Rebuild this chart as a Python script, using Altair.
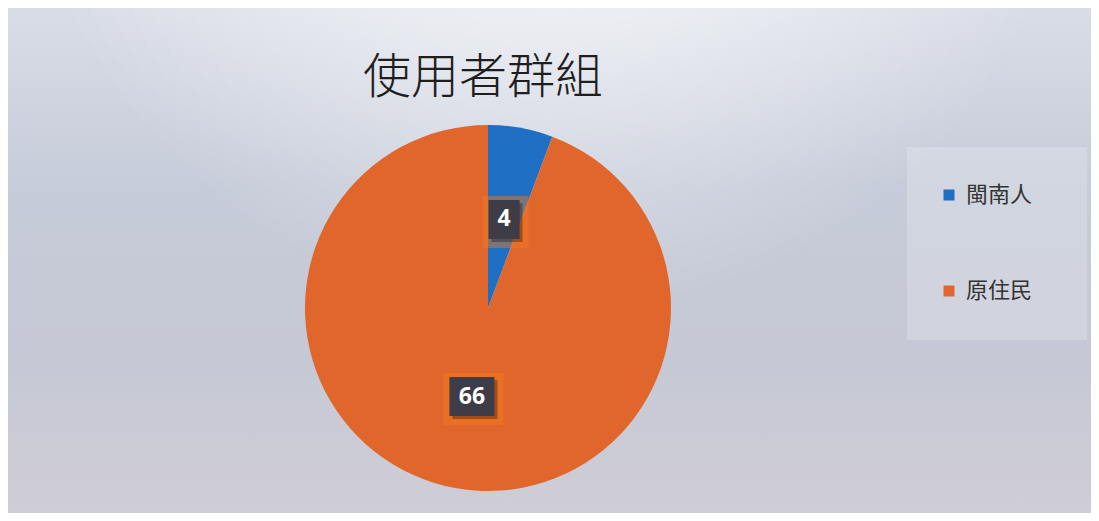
import altair as alt
import pandas as pd

# ---- data ----
groups = ["閩南人", "原住民"]
counts = [4, 66]
order = [0, 1]
palette = ["#1f6fc4", "#e0662c"]
title_text = ["使用者群組"]

# ---- layout (chart pixels) ----
W, H = 1083, 505
CX, CY = 480, 300
R = 183
LABEL_R = 90

df = pd.DataFrame({"group": groups, "count": counts, "order": order})
one = pd.DataFrame({"k": [0]})

bg = alt.Chart(one).mark_rect(
    fill=alt.LinearGradient(
        gradient="linear",
        stops=[
            alt.GradientStop(color="#d9dde7", offset=0),
            alt.GradientStop(color="#c6ccd9", offset=0.35),
            alt.GradientStop(color="#c6c9d5", offset=0.7),
            alt.GradientStop(color="#cfcdd6", offset=1),
        ],
        x1=0, x2=0, y1=0, y2=1,
    )
).encode(x=alt.value(0), x2=alt.value(W), y=alt.value(0), y2=alt.value(H))

glow = alt.Chart(one).mark_rect(
    fill=alt.RadialGradient(
        gradient="radial",
        stops=[
            alt.GradientStop(color="rgba(255,255,255,0.9)", offset=0),
            alt.GradientStop(color="rgba(255,255,255,0)", offset=1),
        ],
        x1=0.5, y1=0.05, r1=0, x2=0.5, y2=0.05, r2=0.5,
    )
).encode(x=alt.value(0), x2=alt.value(W), y=alt.value(0), y2=alt.value(H))

panel = alt.Chart(one).mark_rect(fill="#ffffff", opacity=0.2).encode(
    x=alt.value(899), x2=alt.value(1079), y=alt.value(139), y2=alt.value(332)
)

title = alt.Chart(pd.DataFrame({"t": title_text})).mark_text(
    font="Noto Sans CJK TC", fontSize=48, fontWeight=300, color="#1e1e1e",
    align="center", baseline="middle"
).encode(text="t:N", x=alt.value(475), y=alt.value(71))

pie = alt.Chart(df).mark_arc(outerRadius=R).encode(
    theta=alt.Theta("count:Q", stack=True),
    color=alt.Color(
        "group:N",
        scale=alt.Scale(domain=groups, range=palette),
        legend=alt.Legend(
            title=None, orient="none", legendX=930, legendY=176,
            symbolType="square", symbolSize=121, symbolStrokeWidth=0,
            labelFont="Noto Sans CJK TC", labelFontSize=22, labelColor="#333333",
            labelOffset=6, rowPadding=74, padding=0,
        ),
    ),
    order=alt.Order("order:Q"),
    x=alt.value(CX), y=alt.value(CY),
)

lab = alt.Chart(df).transform_joinaggregate(
    total="sum(count)"
).transform_window(
    cum="sum(count)", sort=[alt.SortField("order")], frame=[None, 0]
).transform_calculate(
    ang="(datum.cum - datum.count/2) / datum.total * 2 * PI",
    px=f"{CX} + {LABEL_R} * sin(datum.ang)",
    py=f"{CY} - {LABEL_R} * cos(datum.ang)",
    label="toString(datum.count)",
    bw="length(datum.label) * 14 + 17",
    bx1="datum.px - datum.bw / 2",
    bx2="datum.px + datum.bw / 2",
    by1="datum.py - 19.5",
    by2="datum.py + 19.5",
    gx1="datum.bx1 - 6",
    gx2="datum.bx2 + 9",
    gy1="datum.by1 - 4",
    gy2="datum.by2 + 9",
    sx1="datum.bx1 + 3",
    sx2="datum.bx2 + 3",
    sy1="datum.by1 + 3",
    sy2="datum.by2 + 3",
)

glowbox = lab.mark_rect(color="#f27a1a", opacity=0.45).encode(
    x=alt.X("gx1:Q", scale=None), x2="gx2:Q",
    y=alt.Y("gy1:Q", scale=None), y2="gy2:Q",
)
shadow = lab.mark_rect(color="#000000", opacity=0.3).encode(
    x=alt.X("sx1:Q", scale=None), x2="sx2:Q",
    y=alt.Y("sy1:Q", scale=None), y2="sy2:Q",
)
box = lab.mark_rect(color="#3e3c46").encode(
    x=alt.X("bx1:Q", scale=None), x2="bx2:Q",
    y=alt.Y("by1:Q", scale=None), y2="by2:Q",
)
txt = lab.mark_text(
    font="Open Sans", fontSize=23, fontWeight="bold", color="#ffffff",
    align="center", baseline="middle",
).encode(
    x=alt.X("px:Q", scale=None), y=alt.Y("py:Q", scale=None), text="label:N"
)

chart = alt.layer(bg, glow, panel, title, pie, glowbox, shadow, box, txt).properties(
    width=W, height=H,
    autosize=alt.AutoSizeParams(type="fit", contains="padding"),
    padding=0,
).configure_view(stroke=None).configure(background="#ffffff")

chart.save("out.html", embed_options={"renderer": "svg", "actions": False})
